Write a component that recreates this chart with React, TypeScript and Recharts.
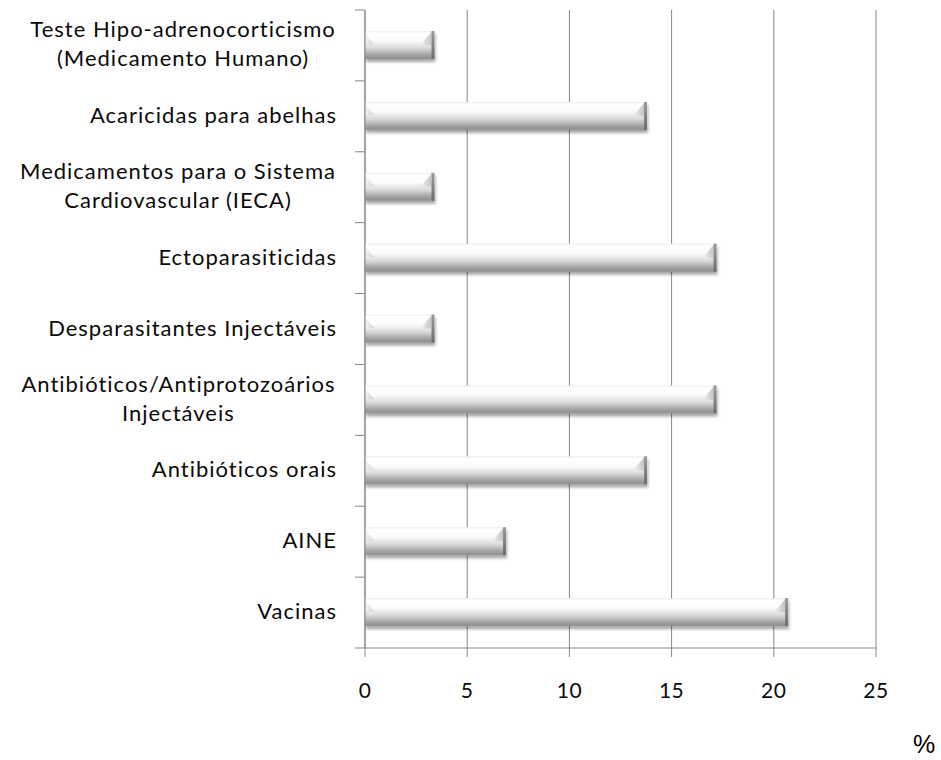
import React from "react";
import { BarChart, Bar, XAxis, YAxis, CartesianGrid } from "recharts";

const categories = [
  "Teste Hipo-adrenocorticismo\n(Medicamento Humano)",
  "Acaricidas para abelhas",
  "Medicamentos para o Sistema\nCardiovascular (IECA)",
  "Ectoparasiticidas",
  "Desparasitantes Injectáveis",
  "Antibióticos/Antiprotozoários\nInjectáveis",
  "Antibióticos orais",
  "AINE",
  "Vacinas",
];
const values = [3.4, 13.8, 3.4, 17.2, 3.4, 17.2, 13.8, 6.9, 20.7];
const xTicks = [0, 5, 10, 15, 20, 25];
const unitLabel = "%";

const data = categories.map((name, i) => ({ name, value: values[i] }));

const FONT = "Lato, 'Open Sans', sans-serif";
const FONT_SIZE = 22;
const LETTER_SPACING = 1;
const AXIS_COLOR = "#868686";

let measureCtx: CanvasRenderingContext2D | null = null;
function measure(text: string): number {
  if (!measureCtx) {
    const c = document.createElement("canvas");
    measureCtx = c.getContext("2d");
  }
  if (!measureCtx) return text.length * FONT_SIZE * 0.5;
  measureCtx.font = `${FONT_SIZE}px Lato`;
  return measureCtx.measureText(text).width + text.length * LETTER_SPACING;
}

const TICK_GAP = 29;
const TICK_LEN = 10;

function YTick(props: any) {
  const { x, y, payload, index, visibleTicksCount } = props;
  const half = payload && payload.offset > 0 ? payload.offset : 35.45;
  const axisX = x + TICK_GAP;
  const lines: string[] = String(payload.value).split("\n");
  const n = lines.length;
  const L = 29;
  const maxW = Math.max(...lines.map(measure));
  const isLast = index === (visibleTicksCount ?? categories.length) - 1;
  return (
    <g>
      <line x1={axisX - TICK_LEN} x2={axisX} y1={y - half} y2={y - half} stroke={AXIS_COLOR} strokeWidth={1} />
      {isLast && (
        <line x1={axisX - TICK_LEN} x2={axisX} y1={y + half} y2={y + half} stroke={AXIS_COLOR} strokeWidth={1} />
      )}
      {lines.map((ln, i) => {
        const capCenter = y + (i - (n - 1) / 2) * L - 1.5;
        return (
          <text
            key={i}
            x={n > 1 ? x - maxW / 2 : x + LETTER_SPACING}
            y={capCenter + 8}
            textAnchor={n > 1 ? "middle" : "end"}
            fontFamily={FONT}
            fontSize={FONT_SIZE}
            letterSpacing={LETTER_SPACING}
            fill="#0a0a0a"
          >
            {ln}
          </text>
        );
      })}
    </g>
  );
}

function XTick(props: any) {
  const { x, y, payload } = props;
  return (
    <text x={x} y={y} textAnchor="middle" fontFamily={FONT} fontSize={21} letterSpacing={0.5} fill="#0a0a0a">
      {payload.value}
    </text>
  );
}

function Bar3D(props: any) {
  const { x, y, width: w, height: h } = props;
  if (!(w > 0) || !(h > 0)) return null;
  return (
    <g>
      <g filter="url(#barShadow)">
        <rect x={x} y={y} width={w} height={h} fill="url(#barBody)" />
      </g>
      <polygon
        points={`${x},${y + h * 0.1} ${x + 9},${y + h * 0.48} ${x},${y + h * 0.48}`}
        fill="url(#capBevel)"
        opacity={0.7}
      />
      <polygon
        points={`${x + w - 14},${y + h * 0.5} ${x + w - 3},${y + 1} ${x + w - 3},${y + h * 0.5}`}
        fill="url(#capBevel)"
      />
      <rect x={x + w - 3} y={y} width={3} height={h} fill="url(#capStrip)" />
    </g>
  );
}

export default function App() {
  return (
    <div style={{ position: "absolute", left: 0, top: 0, width: 941, height: 760, background: "#fff" }}>
      <BarChart
        width={941}
        height={760}
        data={data}
        layout="vertical"
        margin={{ top: 10, right: 65, left: 0, bottom: 52 }}
        barCategoryGap={0}
      >
        <defs>
          <linearGradient id="barBody" x1="0" y1="0" x2="0" y2="1">
            <stop offset="0" stopColor="#ececec" />
            <stop offset="0.08" stopColor="#ffffff" />
            <stop offset="0.35" stopColor="#fbfbfb" />
            <stop offset="0.62" stopColor="#d8d8d8" />
            <stop offset="0.85" stopColor="#a4a4a4" />
            <stop offset="1" stopColor="#8c8c8c" />
          </linearGradient>
          <linearGradient id="capBevel" x1="0" y1="0" x2="1" y2="0">
            <stop offset="0" stopColor="#f2f2f2" />
            <stop offset="1" stopColor="#c4c4c4" />
          </linearGradient>
          <linearGradient id="capStrip" x1="0" y1="0" x2="0" y2="1">
            <stop offset="0" stopColor="#9a9a9a" />
            <stop offset="1" stopColor="#6c6c6c" />
          </linearGradient>
          <filter id="barShadow" x="-5%" y="-30%" width="115%" height="190%">
            <feDropShadow dx="1" dy="3" stdDeviation="1.6" floodColor="#000" floodOpacity="0.35" />
          </filter>
        </defs>
        <CartesianGrid vertical horizontal={false} stroke={AXIS_COLOR} strokeWidth={1} />
        <XAxis
          type="number"
          domain={[0, 25]}
          ticks={xTicks}
          interval={0}
          height={60}
          tickSize={9}
          tickMargin={41}
          stroke={AXIS_COLOR}
          tickLine={{ stroke: AXIS_COLOR }}
          axisLine={{ stroke: AXIS_COLOR }}
          tick={<XTick />}
        />
        <YAxis
          type="category"
          dataKey="name"
          width={365}
          interval={0}
          tickSize={0}
          tickMargin={TICK_GAP}
          tickLine={false}
          axisLine={{ stroke: AXIS_COLOR }}
          tick={<YTick />}
        />
        <Bar dataKey="value" barSize={28} shape={<Bar3D />} isAnimationActive={false} />
      </BarChart>
      <div
        style={{
          position: "absolute",
          left: 913,
          top: 729,
          fontFamily: "'Liberation Sans', Arial, sans-serif",
          fontSize: 25,
          lineHeight: "30px",
          color: "#000",
        }}
      >
        {unitLabel}
      </div>
    </div>
  );
}
